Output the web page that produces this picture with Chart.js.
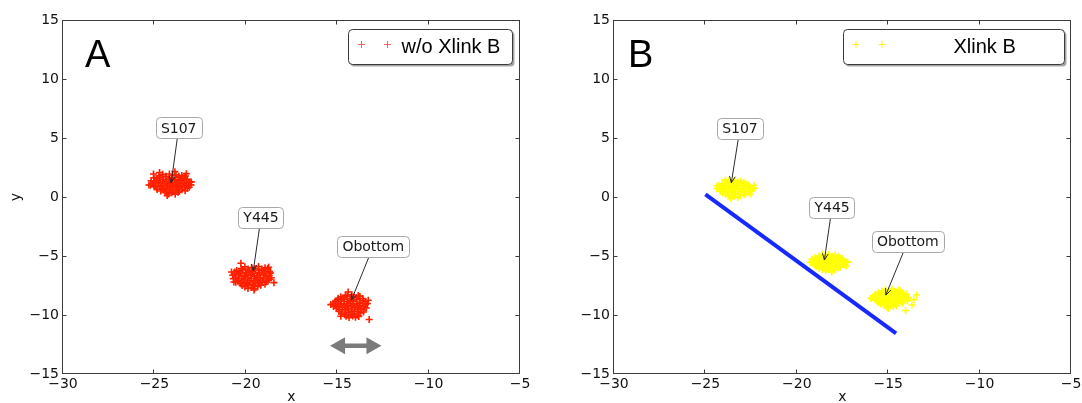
<!DOCTYPE html>
<html>
<head>
<meta charset="utf-8">
<script src="https://cdn.jsdelivr.net/npm/chart.js@4.4.1/dist/chart.umd.min.js"></script>
<style>
  html, body { margin: 0; padding: 0; background: #fff; }
  #wrap { position: relative; width: 1082px; height: 403px; overflow: hidden; }
  canvas { position: absolute; top: 0; }
  #panelA { left: 0; }
  #panelB { left: 541px; }
</style>
</head>
<body>
<div id="wrap">
  <canvas id="panelA" width="541" height="403"></canvas>
  <canvas id="panelB" width="541" height="403"></canvas>
</div>
<script>
// ---- Panel A: positions without the crosslink (x, y) ----
const s107Free = [
  [-24.55,1.92],[-24.18,1.95],[-23.82,1.88],[-23.5,1.83],
  [-24.75,1.79],[-24.38,1.76],[-24.0,1.81],[-23.66,1.75],[-23.3,1.78],
  [-25.02,1.62],[-24.7,1.66],[-24.36,1.7],[-24.02,1.63],[-23.68,1.68],[-23.37,1.6],
  [-24.88,1.53],[-24.52,1.5],[-24.19,1.55],[-23.85,1.51],[-23.52,1.54],[-23.2,1.49],
  [-25.18,1.38],[-24.86,1.42],[-24.53,1.36],[-24.2,1.44],[-23.88,1.39],[-23.55,1.41],[-23.25,1.35],
  [-25.02,1.27],[-24.68,1.24],[-24.36,1.28],[-24.03,1.25],[-23.7,1.27],[-23.38,1.23],[-23.05,1.26],
  [-25.12,1.12],[-24.78,1.17],[-24.44,1.1],[-24.1,1.15],[-23.77,1.09],[-23.43,1.16],[-23.12,1.1],
  [-25.22,0.99],[-24.95,1.02],[-24.6,0.98],[-24.27,1.01],[-23.93,0.97],[-23.6,1.02],[-23.27,0.99],[-23.0,1.03],
  [-25.0,0.87],[-24.68,0.9],[-24.33,0.85],[-24.0,0.91],[-23.66,0.86],[-23.34,0.88],[-23.1,0.82],
  [-24.88,0.76],[-24.52,0.73],[-24.18,0.77],[-23.84,0.74],[-23.5,0.76],[-23.2,0.72],
  [-24.85,0.63],[-24.5,0.6],[-24.16,0.65],[-23.82,0.58],[-23.5,0.62],
  [-24.65,0.51],[-24.32,0.48],[-23.98,0.52],[-23.63,0.49],[-23.32,0.53],
  [-24.42,0.38],[-24.05,0.35],[-23.7,0.4],
  [-24.22,0.26],[-23.86,0.24],
  [-25.3,1.02],[-25.05,1.95],[-22.98,1.28],[-23.25,1.98],[-24.3,0.12],[-23.88,2.15],[-24.72,2.08]
];
const y445Free = [
  [-20.05,-5.92],[-19.68,-5.98],[-19.3,-5.9],[-18.95,-6.0],
  [-20.25,-6.07],[-19.88,-6.1],[-19.5,-6.06],[-19.12,-6.11],[-18.8,-6.05],
  [-20.5,-6.22],[-20.17,-6.18],[-19.82,-6.25],[-19.48,-6.2],[-19.13,-6.24],[-18.8,-6.18],
  [-20.6,-6.36],[-20.34,-6.33],[-20.0,-6.38],[-19.65,-6.34],[-19.3,-6.39],[-18.98,-6.35],[-18.7,-6.32],
  [-20.62,-6.5],[-20.3,-6.46],[-19.96,-6.52],[-19.62,-6.47],[-19.28,-6.53],[-18.95,-6.49],[-18.65,-6.45],
  [-20.72,-6.63],[-20.4,-6.6],[-20.06,-6.66],[-19.72,-6.62],[-19.38,-6.67],[-19.04,-6.61],[-18.72,-6.65],
  [-20.55,-6.78],[-20.22,-6.74],[-19.88,-6.8],[-19.54,-6.76],[-19.2,-6.82],[-18.87,-6.77],[-18.6,-6.84],
  [-20.68,-6.92],[-20.38,-6.9],[-20.04,-6.95],[-19.7,-6.91],[-19.36,-6.96],[-19.02,-6.92],[-18.7,-6.97],
  [-20.45,-7.08],[-20.12,-7.04],[-19.78,-7.1],[-19.45,-7.05],[-19.1,-7.12],[-18.78,-7.06],
  [-20.55,-7.22],[-20.22,-7.19],[-19.9,-7.24],[-19.56,-7.2],[-19.22,-7.25],[-18.88,-7.21],
  [-20.3,-7.36],[-19.95,-7.32],[-19.62,-7.38],[-19.28,-7.34],[-18.95,-7.4],
  [-20.2,-7.5],[-19.86,-7.47],[-19.52,-7.52],[-19.18,-7.48],
  [-20.05,-7.62],[-19.7,-7.66],[-19.35,-7.6],
  [-19.88,-7.75],[-19.52,-7.78],
  [-20.78,-6.35],[-20.27,-5.62],[-18.46,-7.26],[-19.55,-7.88],[-20.65,-7.2],[-18.75,-5.95]
];
const obottomFree = [
  [-14.55,-8.32],[-14.2,-8.28],[-13.85,-8.35],
  [-14.8,-8.45],[-14.45,-8.42],[-14.1,-8.46],[-13.76,-8.43],
  [-14.95,-8.58],[-14.62,-8.55],[-14.28,-8.6],[-13.94,-8.54],[-13.6,-8.6],
  [-14.98,-8.72],[-14.62,-8.7],[-14.28,-8.74],[-13.94,-8.71],[-13.6,-8.75],
  [-15.1,-8.86],[-14.78,-8.82],[-14.44,-8.88],[-14.1,-8.84],[-13.76,-8.9],[-13.45,-8.85],
  [-15.22,-9.0],[-14.95,-8.98],[-14.62,-9.02],[-14.28,-8.99],[-13.94,-9.03],[-13.6,-9.0],[-13.35,-9.02],
  [-15.12,-9.14],[-14.8,-9.1],[-14.46,-9.16],[-14.12,-9.12],[-13.78,-9.18],[-13.45,-9.13],
  [-15.2,-9.28],[-14.9,-9.26],[-14.56,-9.3],[-14.22,-9.27],[-13.88,-9.31],[-13.55,-9.28],
  [-15.05,-9.42],[-14.72,-9.38],[-14.38,-9.44],[-14.04,-9.4],[-13.7,-9.46],[-13.42,-9.4],
  [-14.88,-9.56],[-14.55,-9.53],[-14.2,-9.57],[-13.86,-9.54],[-13.55,-9.58],
  [-14.9,-9.7],[-14.56,-9.66],[-14.22,-9.72],[-13.88,-9.68],[-13.56,-9.74],
  [-14.75,-9.84],[-14.4,-9.81],[-14.06,-9.85],[-13.72,-9.82],
  [-14.6,-9.98],[-14.25,-9.95],[-13.9,-10.0],
  [-14.52,-10.1],[-14.15,-10.08],[-13.82,-10.12],
  [-14.35,-10.22],[-14.0,-10.2],
  [-15.35,-9.12],[-13.25,-10.38],[-13.3,-8.75],[-14.8,-10.1],[-14.4,-8.05]
];

// ---- Panel B: positions with the crosslink (x, y) ----
const s107Xlink = [
  [-23.75,1.38],[-23.4,1.42],[-23.05,1.35],
  [-23.92,1.27],[-23.58,1.25],[-23.22,1.28],[-22.9,1.24],
  [-24.1,1.12],[-23.78,1.16],[-23.45,1.1],[-23.1,1.15],[-22.78,1.1],
  [-24.25,1.0],[-23.95,1.02],[-23.62,0.98],[-23.28,1.01],[-22.95,0.97],[-22.65,1.0],
  [-24.22,0.86],[-23.9,0.9],[-23.56,0.84],[-23.22,0.9],[-22.88,0.85],[-22.58,0.88],
  [-24.38,0.73],[-24.05,0.75],[-23.72,0.71],[-23.38,0.74],[-23.02,0.7],[-22.68,0.73],[-22.4,0.7],
  [-24.2,0.6],[-23.86,0.64],[-23.52,0.58],[-23.18,0.63],[-22.84,0.57],[-22.52,0.62],
  [-24.15,0.47],[-23.88,0.49],[-23.55,0.45],[-23.2,0.48],[-22.86,0.44],[-22.55,0.47],
  [-24.05,0.34],[-23.72,0.38],[-23.38,0.32],[-23.04,0.37],[-22.7,0.33],
  [-23.9,0.22],[-23.56,0.2],[-23.22,0.23],[-22.88,0.19],
  [-23.75,0.1],[-23.4,0.06],[-23.05,0.11],
  [-23.58,-0.02],[-23.22,-0.04],
  [-22.3,0.75],[-22.35,1.0],[-24.35,0.95],[-23.6,-0.15],[-22.55,0.25],[-23.9,1.45]
];
const y445Xlink = [
  [-18.6,-4.88],[-18.25,-4.85],[-17.9,-4.92],
  [-18.78,-5.0],[-18.42,-4.98],[-18.08,-5.02],[-17.75,-5.0],
  [-19.0,-5.12],[-18.68,-5.08],[-18.34,-5.14],[-18.0,-5.1],[-17.66,-5.15],
  [-19.18,-5.25],[-18.84,-5.22],[-18.5,-5.27],[-18.16,-5.23],[-17.82,-5.28],[-17.5,-5.24],
  [-19.12,-5.38],[-18.8,-5.34],[-18.46,-5.4],[-18.12,-5.36],[-17.78,-5.42],[-17.45,-5.37],
  [-19.2,-5.51],[-18.92,-5.48],[-18.58,-5.53],[-18.24,-5.49],[-17.9,-5.54],[-17.56,-5.5],[-17.3,-5.52],
  [-19.08,-5.64],[-18.75,-5.6],[-18.41,-5.66],[-18.07,-5.62],[-17.73,-5.68],[-17.38,-5.62],
  [-19.02,-5.77],[-18.7,-5.74],[-18.36,-5.78],[-18.02,-5.75],[-17.68,-5.79],[-17.4,-5.74],
  [-18.95,-5.9],[-18.62,-5.86],[-18.28,-5.92],[-17.94,-5.88],[-17.6,-5.94],
  [-18.78,-6.03],[-18.44,-6.0],[-18.1,-6.04],[-17.76,-6.01],
  [-18.6,-6.16],[-18.25,-6.12],[-17.9,-6.18],
  [-18.42,-6.26],[-18.08,-6.28],
  [-17.22,-5.5],[-19.25,-5.55],[-18.1,-6.35],[-17.3,-5.85]
];
const obottomXlink = [
  [-15.15,-7.85],[-14.8,-7.8],[-14.45,-7.88],
  [-15.35,-7.97],[-15.0,-7.95],[-14.65,-7.99],[-14.3,-7.96],
  [-15.55,-8.1],[-15.22,-8.06],[-14.88,-8.12],[-14.54,-8.08],[-14.2,-8.14],
  [-15.7,-8.24],[-15.38,-8.21],[-15.05,-8.26],[-14.7,-8.22],[-14.36,-8.27],[-14.02,-8.23],
  [-15.75,-8.38],[-15.42,-8.34],[-15.08,-8.4],[-14.74,-8.36],[-14.4,-8.42],[-14.08,-8.37],
  [-15.88,-8.52],[-15.58,-8.49],[-15.25,-8.54],[-14.9,-8.5],[-14.56,-8.55],[-14.22,-8.51],[-13.9,-8.53],
  [-15.7,-8.66],[-15.38,-8.62],[-15.04,-8.68],[-14.7,-8.64],[-14.36,-8.7],[-14.04,-8.65],
  [-15.62,-8.8],[-15.3,-8.77],[-14.96,-8.82],[-14.62,-8.78],[-14.28,-8.83],[-13.95,-8.79],
  [-15.55,-8.94],[-15.22,-8.9],[-14.88,-8.96],[-14.54,-8.92],[-14.2,-8.98],
  [-15.4,-9.06],[-15.06,-9.03],[-14.72,-9.08],[-14.38,-9.04],
  [-15.25,-9.2],[-14.9,-9.16],[-14.55,-9.22],
  [-15.08,-9.32],[-14.72,-9.3],
  [-13.45,-8.3],[-13.7,-9.15],[-13.9,-8.55],[-14.05,-9.62],[-13.6,-8.7],[-15.95,-8.6],[-15.0,-9.45]
];

// ---- Fitted line in panel B ----
const fitLineX = [-25.0, -14.57];
const fitLineY = [0.23, -11.55];

// ---- Labels ----
const siteLabels = ['S107', 'Y445', 'Obottom'];
const seriesNames = ['w/o Xlink B', 'Xlink B'];
const xRange = [-30, -5];
const yRange = [-15, 15];
const tickStep = 5;

// label box centres and arrow targets, in data units
const notesA = [
  { tx: -23.67, ty: 5.85, px: -24.08, py: 1.21 },
  { tx: -19.17, ty: -1.74, px: -19.59, py: -6.25 },
  { tx: -13.03, ty: -4.19, px: -14.22, py: -8.73 }
];
const notesB = [
  { tx: -23.11, ty: 5.81, px: -23.58, py: 1.21 },
  { tx: -18.07, ty: -0.85, px: -18.49, py: -5.34 },
  { tx: -13.93, ty: -3.77, px: -15.13, py: -8.31 }
];

const RED = 'rgb(255,32,0)';
const YELLOW = 'rgb(255,255,0)';
const BLUE = 'rgb(22,42,255)';
const TICK_FONT = { family: 'DejaVu Sans', size: 14 };

const minusFmt = v => (v < 0 ? '\u2212' + Math.abs(v) : String(v));

function roundRectPath(ctx, x, y, w, h, r) {
  ctx.beginPath();
  ctx.moveTo(x + r, y);
  ctx.lineTo(x + w - r, y);
  ctx.arcTo(x + w, y, x + w, y + r, r);
  ctx.lineTo(x + w, y + h - r);
  ctx.arcTo(x + w, y + h, x + w - r, y + h, r);
  ctx.lineTo(x + r, y + h);
  ctx.arcTo(x, y + h, x, y + h - r, r);
  ctx.lineTo(x, y + r);
  ctx.arcTo(x, y, x + r, y, r);
  ctx.closePath();
}

function drawPlus(ctx, x, y, r, color) {
  ctx.strokeStyle = color;
  ctx.lineWidth = 1;
  ctx.beginPath();
  ctx.moveTo(x - r, y); ctx.lineTo(x + r, y);
  ctx.moveTo(x, y - r); ctx.lineTo(x, y + r);
  ctx.stroke();
}

// Frame, inward ticks, callouts, legend and panel letter
const figurePlugin = {
  id: 'figure',
  afterDatasetsDraw(chart, args, o) {
    const ctx = chart.ctx;
    const { left, right, top, bottom } = chart.chartArea;
    const xs = chart.scales.x, ys = chart.scales.y;
    ctx.save();

    // grey double-headed arrow
    if (o.span) {
      const x1 = xs.getPixelForValue(o.span.from);
      const x2 = xs.getPixelForValue(o.span.to);
      const y = ys.getPixelForValue(o.span.y);
      const hl = 15, hh = 8.5, st = 2.2;
      ctx.fillStyle = '#7b7b7b';
      ctx.beginPath();
      ctx.moveTo(x1, y);
      ctx.lineTo(x1 + hl, y - hh); ctx.lineTo(x1 + hl, y - st);
      ctx.lineTo(x2 - hl, y - st); ctx.lineTo(x2 - hl, y - hh);
      ctx.lineTo(x2, y);
      ctx.lineTo(x2 - hl, y + hh); ctx.lineTo(x2 - hl, y + st);
      ctx.lineTo(x1 + hl, y + st); ctx.lineTo(x1 + hl, y + hh);
      ctx.closePath();
      ctx.fill();
    }

    // callouts
    ctx.font = '14px "DejaVu Sans"';
    o.notes.forEach((n, i) => {
      const label = siteLabels[i];
      const tw = ctx.measureText(label).width;
      const bw = tw + 10, bh = 21;
      const cx = xs.getPixelForValue(n.tx), cy = ys.getPixelForValue(n.ty);
      const px = xs.getPixelForValue(n.px), py = ys.getPixelForValue(n.py);
      const dx = px - cx, dy = py - cy;
      const t = Math.min((bw / 2) / Math.max(Math.abs(dx), 1e-6), (bh / 2) / Math.max(Math.abs(dy), 1e-6));
      const sx = cx + dx * t, sy = cy + dy * t;
      ctx.strokeStyle = '#2b2b2b';
      ctx.lineWidth = 1;
      ctx.beginPath();
      ctx.moveTo(sx, sy); ctx.lineTo(px, py);
      const ang = Math.atan2(py - sy, px - sx);
      const L = 7, sp = 0.42;
      ctx.moveTo(px - L * Math.cos(ang - sp), py - L * Math.sin(ang - sp));
      ctx.lineTo(px, py);
      ctx.lineTo(px - L * Math.cos(ang + sp), py - L * Math.sin(ang + sp));
      ctx.stroke();

      roundRectPath(ctx, Math.round(cx - bw / 2) + 0.5, Math.round(cy - bh / 2) + 0.5, Math.round(bw), bh, 4);
      ctx.fillStyle = '#fff';
      ctx.fill();
      ctx.strokeStyle = '#a8a8a8';
      ctx.stroke();
      ctx.fillStyle = '#1a1a1a';
      ctx.textAlign = 'center';
      ctx.textBaseline = 'middle';
      ctx.fillText(label, cx, cy + 1);
    });

    // frame
    ctx.strokeStyle = '#3c3c3c';
    ctx.lineWidth = 1;
    const L0 = Math.round(left) - 0.5, R0 = Math.round(right) - 0.5;
    const T0 = Math.round(top) + 0.5, B0 = Math.round(bottom) - 0.5;
    ctx.strokeRect(L0, T0, R0 - L0, B0 - T0);

    // inward ticks on all four sides
    ctx.beginPath();
    xs.ticks.forEach(tk => {
      const p = Math.round(xs.getPixelForValue(tk.value)) - 0.5;
      if (p <= L0 + 1 || p >= R0 - 1) return;
      ctx.moveTo(p, B0); ctx.lineTo(p, B0 - 4);
      ctx.moveTo(p, T0); ctx.lineTo(p, T0 + 4);
    });
    ys.ticks.forEach(tk => {
      const p = Math.round(ys.getPixelForValue(tk.value)) + 0.5;
      if (p <= T0 + 1 || p >= B0 - 1) return;
      ctx.moveTo(L0, p); ctx.lineTo(L0 + 4, p);
      ctx.moveTo(R0, p); ctx.lineTo(R0 - 4, p);
    });
    ctx.stroke();

    // legend box
    const lg = o.legend;
    const bx = Math.round(right + lg.dxRight - lg.width) + 0.5, by = Math.round(top + 9) + 0.5;
    roundRectPath(ctx, bx + 2, by + 2, lg.width, 35, 4);
    ctx.fillStyle = 'rgba(0,0,0,0.35)';
    ctx.fill();
    roundRectPath(ctx, bx, by, lg.width, 35, 4);
    ctx.fillStyle = '#fff';
    ctx.fill();
    ctx.strokeStyle = '#3a3a3a';
    ctx.stroke();
    lg.markers.forEach(mx => drawPlus(ctx, bx + mx, by + 15, 3.5, lg.color));
    ctx.fillStyle = '#000';
    ctx.font = '20px "Liberation Sans"';
    ctx.textAlign = 'left';
    ctx.textBaseline = 'alphabetic';
    ctx.fillText(lg.text, bx + lg.textX, by + 23);

    // panel letter
    ctx.font = '38px "Liberation Sans"';
    ctx.fillText(o.letter, left + o.letterDx, top + 47);

    // axis titles
    ctx.font = '14px "DejaVu Sans"';
    ctx.fillStyle = '#111';
    ctx.textAlign = 'center';
    ctx.fillText('x', (left + right) / 2, 401);
    if (o.yTitle) {
      ctx.translate(19.5, (top + bottom) / 2);
      ctx.rotate(-Math.PI / 2);
      ctx.fillText('y', 0, 0);
    }
    ctx.restore();
  }
};

function makePanel(id, datasets, fig, yAxisWidth, padRight) {
  return new Chart(document.getElementById(id), {
    type: 'scatter',
    data: { datasets },
    options: {
      responsive: false,
      animation: false,
      devicePixelRatio: 1,
      layout: { padding: { top: 20, right: padRight, left: 0, bottom: 0 } },
      plugins: { legend: { display: false }, tooltip: { enabled: false }, figure: fig },
      elements: { point: { pointStyle: 'cross', radius: 3.5, borderWidth: 1.6 } },
      scales: {
        x: {
          type: 'linear', min: xRange[0], max: xRange[1],
          afterFit: s => { s.height = 29; s.paddingLeft = 0; s.paddingRight = 0; },
          grid: { display: false, drawTicks: false },
          border: { display: false },
          ticks: { stepSize: tickStep, padding: 2, color: '#111', font: TICK_FONT,
                   callback: minusFmt, maxRotation: 0, autoSkip: false }
        },
        y: {
          type: 'linear', min: yRange[0], max: yRange[1],
          afterFit: s => { s.width = yAxisWidth; s.paddingTop = 0; s.paddingBottom = 0; },
          grid: { display: false, drawTicks: false },
          border: { display: false },
          ticks: { stepSize: tickStep, padding: 4, color: '#111', font: TICK_FONT,
                   callback: minusFmt, autoSkip: false }
        }
      }
    },
    plugins: [figurePlugin]
  });
}

makePanel('panelA', [
  {
    label: seriesNames[0],
    data: [].concat(s107Free, y445Free, obottomFree),
    borderColor: RED, backgroundColor: RED, order: 1
  }
], {
  notes: notesA,
  span: { from: -15.39, to: -12.58, y: -12.6 },
  legend: { width: 164, dxRight: -8, markers: [13, 39], textX: 53, text: seriesNames[0], color: 'rgba(255,45,45,0.75)' },
  letter: 'A', letterDx: 22, yTitle: true
}, 63, 21);

makePanel('panelB', [
  {
    type: 'line',
    data: fitLineX.map((x, i) => [x, fitLineY[i]]),
    borderColor: BLUE, borderWidth: 4, pointRadius: 0, showLine: true,
    borderCapStyle: 'butt', fill: false, order: 0
  },
  {
    label: seriesNames[1],
    data: [].concat(s107Xlink, y445Xlink, obottomXlink),
    borderColor: YELLOW, backgroundColor: YELLOW, order: 1
  }
], {
  notes: notesB,
  legend: { width: 221, dxRight: -7, markers: [12.5, 38.5], textX: 110, text: seriesNames[1], color: 'rgba(255,240,0,0.9)' },
  letter: 'B', letterDx: 14, yTitle: false
}, 73, 11);
</script>
</body>
</html>
